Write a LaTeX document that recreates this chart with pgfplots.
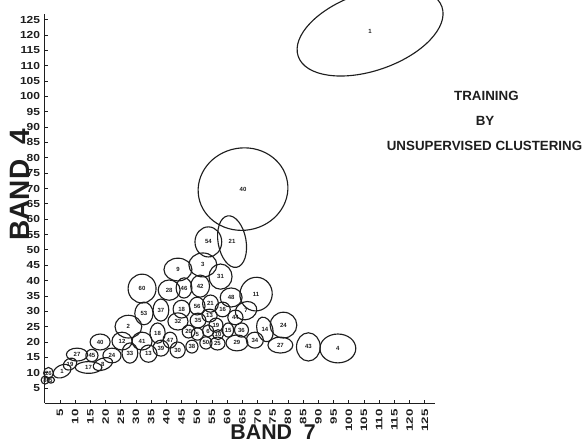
\documentclass[border=0pt]{standalone}
\usepackage{fontspec}
\setmainfont{Liberation Sans}
\usepackage{graphicx}
\usepackage{pgfplots}
\usepackage{pgfplotstable}
\pgfplotsset{compat=1.18}
\usetikzlibrary{shapes.geometric}
\definecolor{ink}{HTML}{1E1E1E}

% cluster ellipses: centre (x,y), semi-axes (rx,ry) in data units, rotation, label
\pgfplotstableread{
x     y     rx   ry   rot lbl
107.0 121.1 25.0 12.7 19  1
65.2  69.8  14.8 13.4 10  40
61.6  52.7  4.6  8.5  10  21
53.8  52.6  4.4  4.9  0   54
52.0  45.1  4.6  3.9  0   3
43.8  43.6  4.6  3.7  0   9
57.8  41.3  3.8  4.1  0   31
32.0  37.4  4.6  4.7  0   60
40.9  36.9  3.6  3.3  0   28
45.8  37.6  2.6  3.3  0   46
51.1  38.2  3.1  3.6  0   42
69.5  35.6  5.3  5.5  -15 11
61.3  34.5  3.6  3.1  0   48
54.5  32.5  2.6  2.8  0   21
66.2  30.2  3.6  2.9  20  7
32.6  29.3  3.0  3.7  0   53
38.2  30.4  2.6  3.6  0   37
45.0  30.7  2.8  2.9  0   18
50.1  31.7  2.6  2.9  0   56
58.5  30.6  2.5  2.4  0   16
54.2  28.6  2.5  2.1  0   13
62.7  28.0  2.5  2.4  0   44
43.8  26.7  3.3  2.8  0   32
50.4  27.0  2.6  2.4  0   35
56.3  25.5  2.3  2.3  0   19
27.5  25.0  4.4  3.7  0   2
37.1  22.9  2.5  3.3  0   18
41.2  20.6  2.3  2.6  0   47
47.3  23.4  2.1  2.1  0   20
50.2  22.6  2.0  2.0  0   5
53.7  23.6  1.8  2.0  0   6
57.0  22.4  1.8  1.6  0   10
60.3  23.9  1.8  2.3  0   15
64.7  23.9  2.3  2.3  0   36
56.8  19.5  2.5  2.1  0   25
53.0  19.7  2.0  2.0  0   50
48.4  18.5  2.0  2.1  0   38
43.7  17.4  2.5  2.6  0   30
38.2  18.0  2.6  2.6  0   39
63.2  19.7  3.6  2.6  0   29
69.1  20.6  2.8  2.6  0   34
72.4  24.1  2.6  4.1  15  14
78.5  25.5  4.4  4.2  0   24
77.5  19.0  4.1  2.6  0   27
86.7  18.4  3.9  4.6  0   43
96.4  17.9  5.9  4.7  0   4
28.0  16.4  2.6  3.3  0   33
34.1  16.2  2.8  2.8  0   13
32.0  20.3  3.3  2.9  0   41
25.4  20.3  3.3  2.9  0   12
18.2  20.0  3.3  2.6  0   40
10.6  15.9  3.5  2.1  0   27
15.5  15.6  2.0  2.0  0   45
22.1  15.6  3.0  2.4  0   24
19.1  12.8  3.3  1.9  20  8
14.4  11.7  4.4  1.9  0   17
8.3   12.8  2.3  1.8  30  19
5.7   10.5  3.1  2.0  25  1
1.2   9.9   1.6  1.8  0   26
0.1   7.6   1.3  1.3  0   8
2.0   7.6   1.2  1.0  0   5
}\clusters

\begin{document}
\begin{tikzpicture}
\begin{axis}[
  at={(0pt,0pt)}, anchor=south west,
  x=2.28pt, y=2.3025pt,
  xmin=0, xmax=128.4, ymin=0, ymax=126.8,
  enlargelimits=false,
  clip=false,
  axis x line=bottom, axis y line=left,
  axis line style={-, line width=0.9pt, ink},
  xtick={5,10,...,125}, ytick={5,10,...,125},
  tick align=inside, major tick length=2.2pt,
  tick style={ink, line width=0.6pt},
  /pgf/number format/assume math mode=true,
  xticklabel style={font=\bfseries\fontsize{10}{10}\selectfont, text=ink, rotate=90, anchor=east},
  yticklabel style={font=\bfseries\fontsize{9}{9}\selectfont, text=ink},
  xticklabel={\scalebox{1}[0.7]{\pgfmathprintnumber{\tick}}},
  yticklabel={\scalebox{1}[0.85]{\pgfmathprintnumber{\tick}}},
  xticklabel shift=0.8pt,
  ylabel={\bfseries\fontsize{21}{21}\selectfont BAND\ \ 4},
  ylabel style={at={(axis description cs:-0.064,0.562)}, anchor=center, text=ink},
  xlabel={\bfseries\fontsize{16}{16}\selectfont BAND\ \ 7},
  xlabel style={at={(axis description cs:0.585,-0.075)}, anchor=center, text=ink},
]
\addplot[only marks, mark=none,
  visualization depends on={\thisrow{rx} \as \myrx},
  visualization depends on={\thisrow{ry} \as \myry},
  visualization depends on={\thisrow{rot} \as \myrot},
  nodes near coords={},
  every node near coord/.append style={ellipse, draw=ink, line width=0.85pt,
    inner sep=0pt, outer sep=0pt, anchor=center, rotate=\myrot,
    minimum width={2*\myrx*2.28pt}, minimum height={2*\myry*2.3025pt}},
] table[x=x, y=y] {\clusters};
\addplot[only marks, mark=none,
  point meta=explicit symbolic,
  nodes near coords={\pgfplotspointmeta},
  every node near coord/.append style={anchor=center, inner sep=0pt,
    font=\bfseries\fontsize{4.5}{5}\selectfont, text=ink},
] table[x=x, y=y, meta=lbl] {\clusters};
\end{axis}
\node[font=\bfseries\fontsize{10}{12}\selectfont, text=ink] at (331.2pt,230.9pt) {TRAINING};
\node[font=\bfseries\fontsize{10}{12}\selectfont, text=ink] at (330.2pt,211.8pt) {BY};
\node[font=\bfseries\fontsize{10}{12}\selectfont, text=ink] at (329.8pt,193.4pt) {UNSUPERVISED CLUSTERING};
\pgfresetboundingbox
\path[use as bounding box] (-33.6pt,-31.05pt) rectangle (404.4pt,302.55pt);
\end{tikzpicture}
\end{document}
